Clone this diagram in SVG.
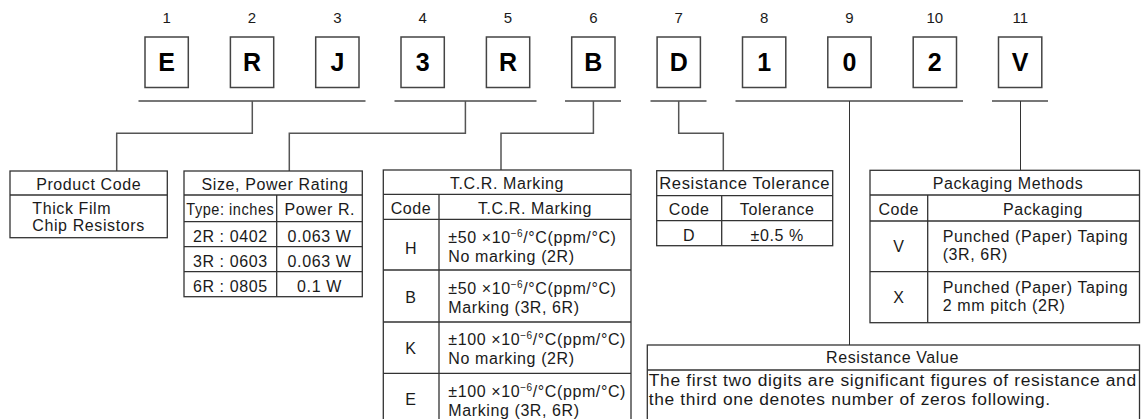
<svg xmlns="http://www.w3.org/2000/svg" width="1142" height="419" viewBox="0 0 1142 419">
<style>
text{font-family:"Liberation Sans",Arial,sans-serif;fill:#1a1a1a}
.num{font-size:15px;text-anchor:middle}
.let{font-size:25px;font-weight:bold;text-anchor:middle;fill:#000}
.t{font-size:16px;letter-spacing:0.6px}
.c{text-anchor:middle}
.box{fill:#fff;stroke:#444;stroke-width:1.5}
.tbl{fill:#fff;stroke:#333;stroke-width:1.3}
.ln{stroke:#333;stroke-width:1.3;fill:none}
.br{stroke:#777;stroke-width:2;fill:none}
.con{stroke:#555;stroke-width:1.5;fill:none}
.thin{stroke:#333;stroke-width:1;fill:none}
</style>
<g id="code-chars">
<text class="num" x="166.7" y="23">1</text>
<text class="num" x="252" y="23">2</text>
<text class="num" x="337.4" y="23">3</text>
<text class="num" x="422.7" y="23">4</text>
<text class="num" x="508" y="23">5</text>
<text class="num" x="593.4" y="23">6</text>
<text class="num" x="678.7" y="23">7</text>
<text class="num" x="764.1" y="23">8</text>
<text class="num" x="849.5" y="23">9</text>
<text class="num" x="934.8" y="23">10</text>
<text class="num" x="1020.2" y="23">11</text>
<rect class="box" x="145" y="37" width="43.3" height="50.5"/>
<rect class="box" x="230.4" y="37" width="43.3" height="50.5"/>
<rect class="box" x="315.7" y="37" width="43.3" height="50.5"/>
<rect class="box" x="401" y="37" width="43.3" height="50.5"/>
<rect class="box" x="486.4" y="37" width="43.3" height="50.5"/>
<rect class="box" x="571.7" y="37" width="43.3" height="50.5"/>
<rect class="box" x="657.1" y="37" width="43.3" height="50.5"/>
<rect class="box" x="742.5" y="37" width="43.3" height="50.5"/>
<rect class="box" x="827.8" y="37" width="43.3" height="50.5"/>
<rect class="box" x="913.2" y="37" width="43.3" height="50.5"/>
<rect class="box" x="998.5" y="37" width="43.3" height="50.5"/>
<text class="let" x="166.7" y="71">E</text>
<text class="let" x="252" y="71">R</text>
<text class="let" x="337.4" y="71">J</text>
<text class="let" x="422.7" y="71">3</text>
<text class="let" x="508" y="71">R</text>
<text class="let" x="593.4" y="71">B</text>
<text class="let" x="678.7" y="71">D</text>
<text class="let" x="764.1" y="71">1</text>
<text class="let" x="849.5" y="71">0</text>
<text class="let" x="934.8" y="71">2</text>
<text class="let" x="1020.2" y="71">V</text>
</g>
<g id="connectors">
<path class="br" d="M138.5 101H365.5M394.5 101H536.5M565 101H621M650.5 101H706.5M735.5 101H963M992 101H1048"/>
<path class="con" d="M252.3 101V133.3H116.7V171"/>
<path class="con" d="M465.4 101V133.3H289.3V171"/>
<path class="con" d="M593.4 101V133.3H501V170"/>
<path class="con" d="M678.7 101V133.3H723.3V170.7"/>
<path class="thin" d="M849.5 101V345"/>
<path class="thin" d="M1020.5 101V170.3"/>
</g>
<g id="product-code">
<rect class="tbl" x="10" y="171" width="157.3" height="66.7"/>
<path class="ln" d="M10 195H167.3"/>
<text class="t c" x="88.7" y="189.5">Product Code</text>
<text class="t" x="32.3" y="214">Thick Film</text>
<text class="t" x="32.3" y="231">Chip Resistors</text>
</g>
<g id="size-power">
<rect class="tbl" x="184" y="171" width="178.3" height="125.7"/>
<path class="ln" d="M184 195H362.3M184 221.7H362.3M184 246.7H362.3M184 271.7H362.3M276.7 195V296.7"/>
<text class="t c" x="275" y="189.5">Size, Power Rating</text>
<text class="t c" x="230.3" y="215" textLength="88" lengthAdjust="spacingAndGlyphs">Type: inches</text>
<text class="t c" x="319.8" y="215">Power R.</text>
<text class="t c" x="230.3" y="241.5">2R : 0402</text>
<text class="t c" x="319.5" y="241.5">0.063 W</text>
<text class="t c" x="230.3" y="266.5">3R : 0603</text>
<text class="t c" x="319.5" y="266.5">0.063 W</text>
<text class="t c" x="230.3" y="291.5">6R : 0805</text>
<text class="t c" x="319.5" y="291.5">0.1 W</text>
</g>
<g id="tcr">
<rect class="tbl" x="383.3" y="170" width="247.7" height="260"/>
<path class="ln" d="M383.3 194.3H631M383.3 219.3H631M383.3 270H631M383.3 322H631M383.3 373.3H631M439 194.3V430"/>
<text class="t c" x="507" y="188.8">T.C.R. Marking</text>
<text class="t c" x="411" y="213.8">Code</text>
<text class="t c" x="535" y="213.8">T.C.R. Marking</text>
<text class="t c" x="411" y="254">H</text>
<text class="t" x="448.3" y="242.5">±50 ×10<tspan font-size="10" dy="-6">−6</tspan><tspan dy="6">/°C(ppm/°C)</tspan></text>
<text class="t" x="448.3" y="261.7">No marking (2R)</text>
<text class="t c" x="411" y="302.5">B</text>
<text class="t" x="448.3" y="294">±50 ×10<tspan font-size="10" dy="-6">−6</tspan><tspan dy="6">/°C(ppm/°C)</tspan></text>
<text class="t" x="448.3" y="313">Marking (3R, 6R)</text>
<text class="t c" x="411" y="353.8">K</text>
<text class="t" x="448.3" y="345.3">±100 ×10<tspan font-size="10" dy="-6">−6</tspan><tspan dy="6">/°C(ppm/°C)</tspan></text>
<text class="t" x="448.3" y="364.3">No marking (2R)</text>
<text class="t c" x="411" y="405">E</text>
<text class="t" x="448.3" y="396.6">±100 ×10<tspan font-size="10" dy="-6">−6</tspan><tspan dy="6">/°C(ppm/°C)</tspan></text>
<text class="t" x="448.3" y="415.6">Marking (3R, 6R)</text>
</g>
<g id="tolerance">
<rect class="tbl" x="656.7" y="170.7" width="176" height="75"/>
<path class="ln" d="M656.7 195.7H832.7M656.7 220.7H832.7M721.7 195.7V245.7"/>
<text class="t c" x="744.7" y="189.3" textLength="171" lengthAdjust="spacingAndGlyphs">Resistance Tolerance</text>
<text class="t c" x="689.2" y="215">Code</text>
<text class="t c" x="777.2" y="215">Tolerance</text>
<text class="t c" x="689.2" y="240.5">D</text>
<text class="t c" x="777.2" y="240.5">±0.5 %</text>
</g>
<g id="packaging">
<rect class="tbl" x="870" y="170.3" width="269.5" height="152.4"/>
<path class="ln" d="M870 195H1139.5M870 221H1139.5M870 271.7H1139.5M927.7 195V322.7"/>
<text class="t c" x="1008" y="189">Packaging Methods</text>
<text class="t c" x="898.8" y="214.5">Code</text>
<text class="t c" x="1043" y="214.5">Packaging</text>
<text class="t c" x="898.8" y="252">V</text>
<text class="t" x="942.7" y="241.5">Punched (Paper) Taping</text>
<text class="t" x="942.7" y="260">(3R, 6R)</text>
<text class="t c" x="898.8" y="302.5">X</text>
<text class="t" x="942.7" y="292.5">Punched (Paper) Taping</text>
<text class="t" x="942.7" y="310.7">2 mm pitch (2R)</text>
</g>
<g id="resistance-value">
<rect class="tbl" x="647.3" y="345" width="492.2" height="85"/>
<path class="ln" d="M647.3 370H1139.5"/>
<text class="t c" x="892.5" y="362.5">Resistance Value</text>
<text class="t" x="648.8" y="386" textLength="488" lengthAdjust="spacingAndGlyphs">The first two digits are significant figures of resistance and</text>
<text class="t" x="648.8" y="405" textLength="402" lengthAdjust="spacingAndGlyphs">the third one denotes number of zeros following.</text>
</g>
</svg>
